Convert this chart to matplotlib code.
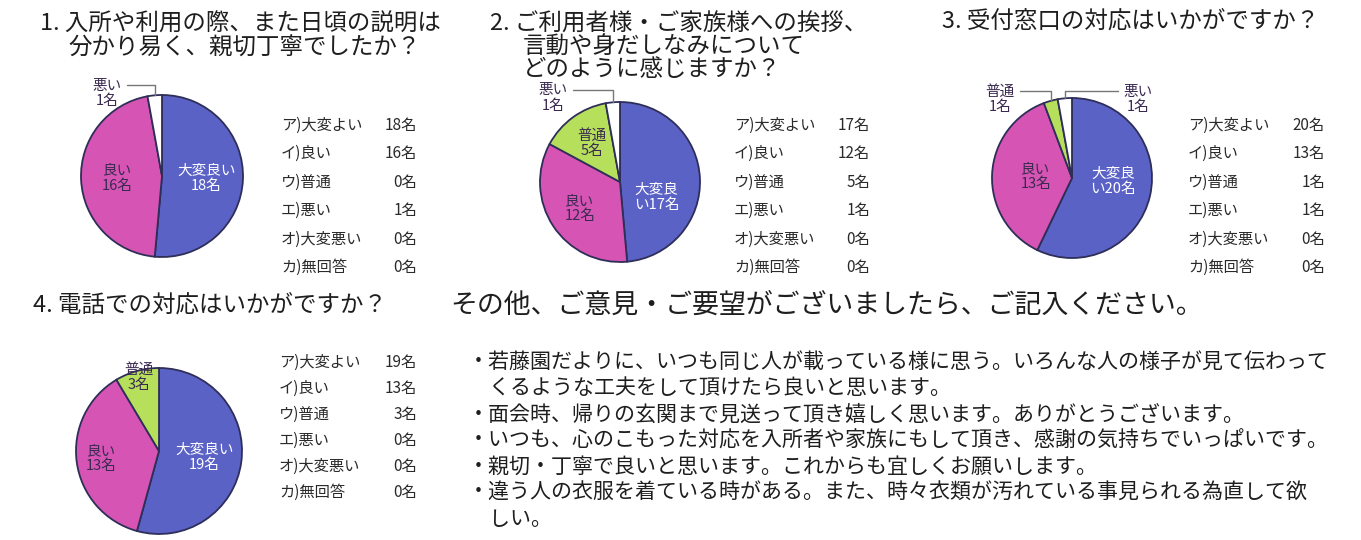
import math
import matplotlib
matplotlib.use("Agg")
import matplotlib.pyplot as plt

plt.rcParams['font.family'] = ['Noto Sans CJK JP', 'DejaVu Sans']

W, H = 1361, 540

# --- data ---
categories = ['大変良い', '良い', '普通', '悪い', '大変悪い', '無回答']
legend_labels = ['ア)大変よい', 'イ)良い', 'ウ)普通', 'エ)悪い', 'オ)大変悪い', 'カ)無回答']
q1_counts = [18, 16, 0, 1, 0, 0]
q2_counts = [17, 12, 5, 1, 0, 0]
q3_counts = [20, 13, 1, 1, 0, 0]
q4_counts = [19, 13, 3, 0, 0, 0]

q1_title = ['1. 入所や利用の際、また日頃の説明は', '分かり易く、親切丁寧でしたか？']
q2_title = ['2. ご利用者様・ご家族様への挨拶、', '言動や身だしなみについて', 'どのように感じますか？']
q3_title = ['3. 受付窓口の対応はいかがですか？']
q4_title = ['4. 電話での対応はいかがですか？']

comment_heading = 'その他、ご意見・ご要望がございましたら、ご記入ください。'
comment_lines = [
    '・若藤園だよりに、いつも同じ人が載っている様に思う。いろんな人の様子が見て伝わって',
    '　くるような工夫をして頂けたら良いと思います。',
    '・面会時、帰りの玄関まで見送って頂き嬉しく思います。ありがとうございます。',
    '・いつも、心のこもった対応を入所者や家族にもして頂き、感謝の気持ちでいっぱいです。',
    '・親切・丁寧で良いと思います。これからも宜しくお願いします。',
    '・違う人の衣服を着ている時がある。また、時々衣類が汚れている事見られる為直して欲',
    '　しい。',
]

colors = ['#5a62c6', '#d654b4', '#b6df5c', '#ffffff', '#ffffff', '#ffffff']
edge_color = '#2e2e58'
label_dark = '#3a2a50'
text_color = '#1e1e1e'


def fx(x):
    return x / W


def fy(y):
    return 1 - y / H


def wrap_name(name, n):
    if n and len(name) > n:
        return name[:n] + '\n' + name[n:]
    return name + '\n'


def draw_title(lines, x0, x1, y0, step):
    for i, line in enumerate(lines):
        fig.text(fx(x0 if i == 0 else x1), fy(y0 + i * step), line,
                 fontsize=16.9, va='center', ha='left', color=text_color)


def draw_legend(counts, xl, xr, y0, step):
    for i, (lab, c) in enumerate(zip(legend_labels, counts)):
        y = fy(y0 + i * step)
        fig.text(fx(xl), y, lab, fontsize=11, va='center', ha='left', color='#2a2a2a')
        fig.text(fx(xr), y, f'{c}名', fontsize=11, va='center', ha='right', color='#2a2a2a')


def draw_pie(counts, cx, cy, r, specs, wrap=0):
    ax = fig.add_axes([fx(cx - r), fy(cy + r), 2 * r / W, 2 * r / H])
    idx = [i for i, c in enumerate(counts) if c > 0]
    vals = [counts[i] for i in idx]
    wedges, _ = ax.pie(vals, colors=[colors[i] for i in idx], startangle=90,
                       counterclock=False, radius=1,
                       wedgeprops=dict(edgecolor=edge_color, linewidth=1.3))
    ax.set_xlim(-1, 1)
    ax.set_ylim(-1, 1)
    ax.set_aspect('auto')
    ax.axis('off')
    for w, i in zip(wedges, idx):
        name = categories[i]
        txt = wrap_name(name, wrap if name == '大変良い' else 0) + f'{counts[i]}名'
        spec = specs.get(name)
        if spec is None:
            continue
        mid = (w.theta1 + w.theta2) / 2
        col = 'white' if i == 0 else label_dark
        if spec[0] == 'in':
            f = spec[1]
            ang = math.radians(mid + (spec[2] if len(spec) > 2 else 0))
            ax.text(f * math.cos(ang), f * math.sin(ang), txt, ha='center', va='center',
                    fontsize=10.5, color=col, linespacing=1.1)
        else:
            ang = math.radians(mid)
            tx, ty, rel = spec[1], spec[2], spec[3]
            ax.annotate(txt, xy=(math.cos(ang), math.sin(ang)), xytext=(tx, ty),
                        ha='center', va='center', fontsize=10.5, color=label_dark,
                        linespacing=1.1, annotation_clip=False,
                        arrowprops=dict(arrowstyle='-', color='#777777', lw=1.0,
                                        shrinkA=2, shrinkB=0, relpos=rel,
                                        connectionstyle='angle,angleA=0,angleB=90,rad=0'))
    return ax


fig = plt.figure(figsize=(W / 100, H / 100), dpi=100)
fig.patch.set_facecolor('white')

# question 1
draw_title(q1_title, 40, 68, 24, 24)
draw_pie(q1_counts, 162, 176, 81,
         {'大変良い': ('in', 0.55), '良い': ('in', 0.55),
          '悪い': ('out', -0.68, 1.02, (1, 0.78))})
draw_legend(q1_counts, 281, 417, 125, 28.5)

# question 2
draw_title(q2_title, 490, 523, 24, 23)
draw_pie(q2_counts, 620, 182, 80,
         {'大変良い': ('in', 0.5, -26), '良い': ('in', 0.6), '普通': ('in', 0.6),
          '悪い': ('out', -0.84, 1.05, (1, 0.78))}, wrap=3)
draw_legend(q2_counts, 734, 870, 125, 28.5)

# question 3
draw_title(q3_title, 942, 942, 21, 24)
draw_pie(q3_counts, 1072, 178, 80,
         {'大変良い': ('in', 0.52, 8), '良い': ('in', 0.45),
          '普通': ('out', -0.9, 0.98, (1, 0.78)),
          '悪い': ('out', 0.83, 0.98, (0, 0.78))}, wrap=3)
draw_legend(q3_counts, 1188, 1325, 125, 28.5)

# question 4
draw_title(q4_title, 33, 33, 305, 24)
draw_pie(q4_counts, 159, 451, 83,
         {'大変良い': ('in', 0.55), '良い': ('in', 0.7), '普通': ('in', 0.92)})
draw_legend(q4_counts, 279, 417, 362, 26)

# free comments
fig.text(fx(450), fy(305), comment_heading, fontsize=19.4, va='center', ha='left', color=text_color)
for i, line in enumerate(comment_lines):
    fig.text(fx(468), fy(362 + i * 26.2), line, fontsize=15.1, va='center', ha='left',
             color=text_color)

fig.savefig('out.png', dpi=100, facecolor='white')
